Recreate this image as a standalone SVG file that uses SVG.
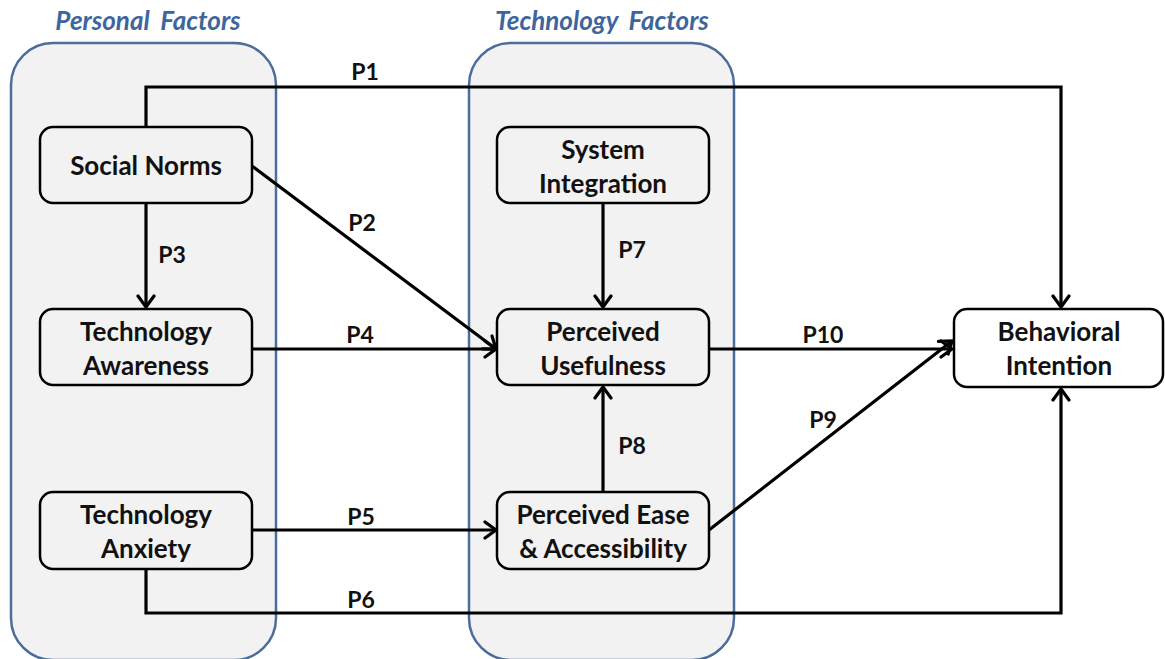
<svg xmlns="http://www.w3.org/2000/svg" width="1165" height="659" viewBox="0 0 1165 659">
  <style>
    .group { fill: #f2f2f2; stroke: #4a6d9c; stroke-width: 2.5; }
    .title { font-family: Lato, "Open Sans", sans-serif; font-weight: bold; font-style: italic; font-size: 26px; fill: #3d659e; text-anchor: middle; word-spacing: 5px; }
    .box { fill: #f2f2f2; stroke: #000; stroke-width: 2.5; }
    .box.white { fill: #fff; }
    .label { font-family: Lato, "Open Sans", sans-serif; font-weight: bold; font-size: 26px; fill: #111; text-anchor: middle; }
    .edge { fill: none; stroke: #000; stroke-width: 3.2; }
    .plabel { font-family: Lato, "Open Sans", sans-serif; font-weight: bold; font-size: 23px; fill: #111; text-anchor: middle; }
  </style>
  <defs>
    <marker id="arrow" markerUnits="userSpaceOnUse" markerWidth="20" markerHeight="20" refX="14" refY="10" orient="auto">
      <path d="M3,2 L14,10 L3,18" fill="none" stroke="#000" stroke-width="3.2" stroke-linecap="round" stroke-linejoin="miter"/>
    </marker>
  </defs>

  <!-- factor groups -->
  <g id="personal-factors">
    <rect class="group" x="11" y="43" width="265" height="617" rx="42" ry="42"/>
    <text class="title" x="148" y="30">Personal Factors</text>
  </g>
  <g id="technology-factors">
    <rect class="group" x="469" y="43" width="265" height="617" rx="42" ry="42"/>
    <text class="title" x="602" y="30">Technology Factors</text>
  </g>

  <!-- connectors -->
  <g id="connectors">
    <polyline class="edge" points="146,127 146,87 1061,87 1061,307" marker-end="url(#arrow)"/>
    <text class="plabel" x="365" y="80">P1</text>
    <line class="edge" x1="252" y1="166" x2="496" y2="349" marker-end="url(#arrow)"/>
    <text class="plabel" x="362" y="231">P2</text>
    <line class="edge" x1="146" y1="203" x2="146" y2="307" marker-end="url(#arrow)"/>
    <text class="plabel" x="172" y="263">P3</text>
    <line class="edge" x1="252" y1="349" x2="496" y2="349" marker-end="url(#arrow)"/>
    <text class="plabel" x="360" y="343">P4</text>
    <line class="edge" x1="252" y1="530" x2="496" y2="530" marker-end="url(#arrow)"/>
    <text class="plabel" x="361" y="525">P5</text>
    <polyline class="edge" points="146,569 146,613 1061,613 1061,389" marker-end="url(#arrow)"/>
    <text class="plabel" x="361" y="608">P6</text>
    <line class="edge" x1="603" y1="203" x2="603" y2="307" marker-end="url(#arrow)"/>
    <text class="plabel" x="632" y="258">P7</text>
    <line class="edge" x1="603" y1="492" x2="603" y2="387" marker-end="url(#arrow)"/>
    <text class="plabel" x="632" y="454">P8</text>
    <line class="edge" x1="709" y1="530" x2="952" y2="341" marker-end="url(#arrow)"/>
    <text class="plabel" x="823" y="428">P9</text>
    <line class="edge" x1="709" y1="349" x2="952" y2="349" marker-end="url(#arrow)"/>
    <text class="plabel" x="823" y="343">P10</text>
  </g>

  <!-- nodes -->
  <g id="social-norms">
    <rect class="box" x="40" y="127" width="212" height="76" rx="13"/>
    <text class="label" x="146" y="175">Social Norms</text>
  </g>
  <g id="technology-awareness">
    <rect class="box" x="40" y="309" width="212" height="76" rx="13"/>
    <text class="label" x="146" y="341">Technology</text>
    <text class="label" x="146" y="375">Awareness</text>
  </g>
  <g id="technology-anxiety">
    <rect class="box" x="40" y="492" width="212" height="77" rx="13"/>
    <text class="label" x="146" y="524">Technology</text>
    <text class="label" x="146" y="558">Anxiety</text>
  </g>
  <g id="system-integration">
    <rect class="box" x="497" y="127" width="212" height="76" rx="13"/>
    <text class="label" x="603" y="159">System</text>
    <text class="label" x="603" y="193">Integration</text>
  </g>
  <g id="perceived-usefulness">
    <rect class="box" x="497" y="309" width="212" height="76" rx="13"/>
    <text class="label" x="603" y="341">Perceived</text>
    <text class="label" x="603" y="375">Usefulness</text>
  </g>
  <g id="perceived-ease">
    <rect class="box" x="497" y="492" width="212" height="77" rx="13"/>
    <text class="label" x="603" y="524">Perceived Ease</text>
    <text class="label" x="603" y="558">&amp; Accessibility</text>
  </g>
  <g id="behavioral-intention">
    <rect class="box white" x="954" y="309" width="209" height="78" rx="13"/>
    <text class="label" x="1059" y="341">Behavioral</text>
    <text class="label" x="1059" y="375">Intention</text>
  </g>
</svg>
